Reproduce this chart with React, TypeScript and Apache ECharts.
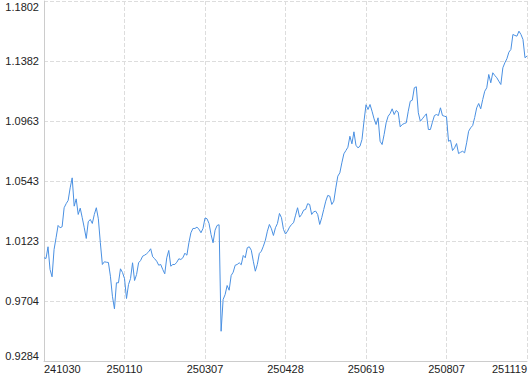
import React, { useEffect, useRef } from "react";
import * as echarts from "echarts";

// Net value series (one point per period)
const navValues: number[] = [
  1.0006, 1.0001, 1.0083, 0.9924, 0.9873, 1.0064, 1.0146, 1.0232, 1.0216, 1.0223,
  1.0356, 1.0384, 1.0407, 1.0495, 1.0565, 1.0367, 1.0418, 1.0309, 1.0353, 1.0286,
  1.0216, 1.0141, 1.0258, 1.0274, 1.0246, 1.0309, 1.0356, 1.0279, 1.0111, 0.9959,
  0.9978, 0.9975, 0.9973, 0.9877, 0.9737, 0.9649, 0.9831, 0.9831, 0.9929, 0.9903,
  0.9861, 0.9721, 0.9819, 0.9861, 0.9971, 0.9847, 0.9889, 0.9971, 0.9987, 1.0017,
  1.0024, 1.0034, 1.0048, 1.0069, 1.0013, 0.9999, 0.9982, 0.9954, 0.9959, 0.9924,
  0.9894, 1.0006, 1.0057, 0.9947, 0.9959, 0.9959, 0.9975, 0.9999, 0.9994, 1.0006,
  1.0038, 1.0024, 1.0111, 1.0181, 1.0211, 1.0211, 1.0220, 1.0206, 1.0181, 1.0211,
  1.0284, 1.0279, 1.0246, 1.0169, 1.0111, 1.0199, 1.0232, 1.0237, 0.9492, 0.9714,
  0.9749, 0.9812, 0.9779, 0.9882, 0.9905, 0.9954, 0.9959, 0.9971, 0.9957, 1.0022,
  1.0006, 1.0076, 1.0083, 1.0059, 0.9982, 0.9912, 0.9959, 1.0036, 1.0052, 1.0087,
  1.0129, 1.0192, 1.0239, 1.0209, 1.0162, 1.0216, 1.0246, 1.0316, 1.0286, 1.0204,
  1.0172, 1.0192, 1.0220, 1.0239, 1.0251, 1.0304, 1.0356, 1.0290, 1.0309, 1.0339,
  1.0344, 1.0384, 1.0379, 1.0309, 1.0328, 1.0332, 1.0309, 1.0239, 1.0286, 1.0344,
  1.0402, 1.0442, 1.0437, 1.0379, 1.0402, 1.0495, 1.0577, 1.0600, 1.0670, 1.0733,
  1.0756, 1.0779, 1.0856, 1.0803, 1.0887, 1.0793, 1.0775, 1.0786, 1.0833, 1.0961,
  1.1076, 1.1043, 1.1078, 1.1031, 1.0978, 1.0938, 1.0985, 1.0821, 1.0798, 1.0868,
  1.0950, 1.0996, 1.1015, 1.1048, 1.1008, 1.1036, 1.1024, 1.0922, 1.0938, 1.0945,
  1.0950, 1.1031, 1.1101, 1.1108, 1.1195, 1.1202, 1.1020, 1.0961, 1.0978, 1.0996,
  1.1013, 1.0903, 1.0903, 1.0954, 1.1001, 1.1008, 1.1001, 1.1055, 1.1001, 1.0996,
  1.0992, 1.0821, 1.0828, 1.0756, 1.0775, 1.0805, 1.0735, 1.0744, 1.0751, 1.0740,
  1.0810, 1.0891, 1.0915, 1.0931, 1.0987, 1.1055, 1.1085, 1.1048, 1.1113, 1.1171,
  1.1195, 1.1288, 1.1230, 1.1300, 1.1281, 1.1265, 1.1241, 1.1218, 1.1335, 1.1370,
  1.1398, 1.1444, 1.1463, 1.1568, 1.1561, 1.1556, 1.1591, 1.1568, 1.1533, 1.1405,
  1.1417,
];

// Dates shown on the x axis (one every LABEL_STEP points)
const tickLabels: string[] = ["241030", "250110", "250307", "250428", "250619", "250807", "251119"];
const LABEL_STEP = 40;

// Y axis range
const yMin = 0.9284;
const yMax = 1.1802;
const ySplits = 6;

const categories: string[] = navValues.map((_, i) =>
  i % LABEL_STEP === 0 && tickLabels[i / LABEL_STEP] !== undefined ? tickLabels[i / LABEL_STEP] : `p${i}`
);

const FONT = "Liberation Sans";

export default function App() {
  const ref = useRef<HTMLDivElement>(null);

  useEffect(() => {
    if (!ref.current) return;
    const chart = echarts.init(ref.current, undefined, { renderer: "svg" });
    chart.setOption({
      animation: false,
      backgroundColor: "#ffffff",
      grid: { left: 44, right: 1, top: 1, bottom: 13, containLabel: false },
      xAxis: {
        type: "category",
        data: categories,
        boundaryGap: false,
        axisLine: { show: true, lineStyle: { color: "#cccccc", width: 1 } },
        axisTick: { show: false },
        axisLabel: {
          interval: LABEL_STEP - 1,
          color: "#222222",
          fontFamily: FONT,
          fontSize: 11,
          lineHeight: 11,
          margin: 2,
          alignMinLabel: "left",
          alignMaxLabel: "right",
        },
        splitLine: {
          show: true,
          interval: LABEL_STEP - 1,
          lineStyle: { color: "#dddddd", type: "dashed", width: 1 },
        },
      },
      yAxis: {
        type: "value",
        min: yMin,
        max: yMax,
        interval: (yMax - yMin) / ySplits,
        axisLine: { show: true, lineStyle: { color: "#cccccc", width: 1 } },
        axisTick: { show: false },
        axisLabel: {
          color: "#222222",
          fontFamily: FONT,
          fontSize: 11,
          lineHeight: 11,
          margin: 5,
          formatter: (v: number) => v.toFixed(4),
          verticalAlignMinLabel: "bottom",
          verticalAlignMaxLabel: "top",
        },
        splitLine: { show: true, lineStyle: { color: "#dddddd", type: "dashed", width: 1 } },
      },
      series: [
        {
          type: "line",
          data: navValues,
          showSymbol: false,
          symbol: "none",
          smooth: false,
          lineStyle: { color: "#4a90e2", width: 1 },
          itemStyle: { color: "#4a90e2" },
        },
      ],
    });
    return () => chart.dispose();
  }, []);

  return (
    <div
      ref={ref}
      style={{ position: "absolute", left: 0, top: 0, width: 530, height: 374 }}
    />
  );
}
